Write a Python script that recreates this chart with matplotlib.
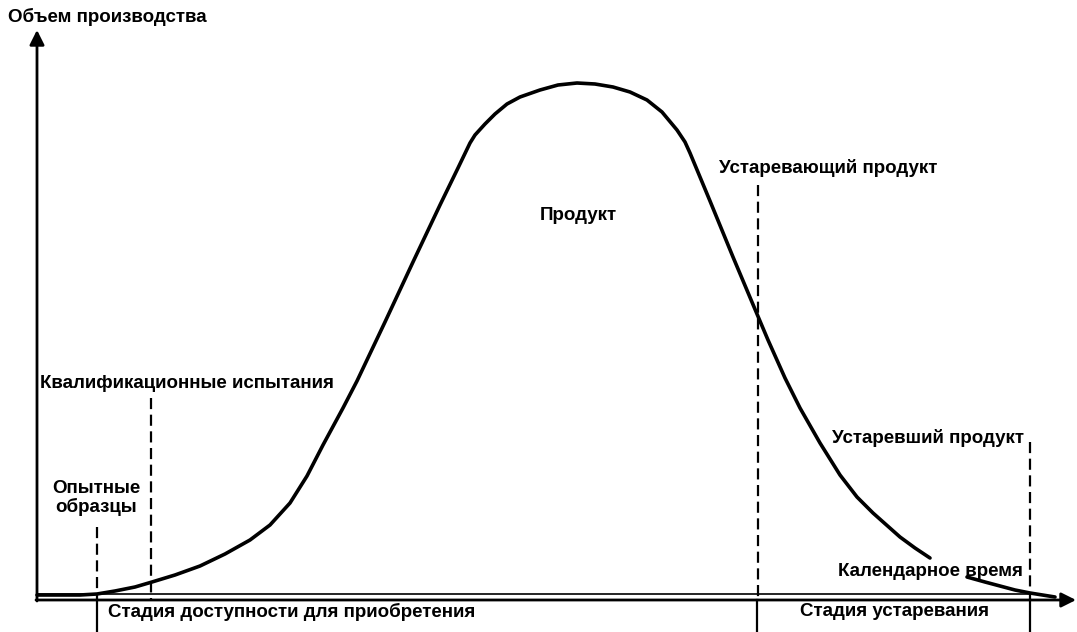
import matplotlib
matplotlib.use("Agg")
from matplotlib import pyplot as plt

plt.rcParams['font.family'] = ['Liberation Sans', 'DejaVu Sans']

# curve (pixel coords, y down), split where the label cuts it
curve_x1 = [37, 60, 80, 97, 115, 135, 152, 175, 200, 225, 250, 270, 290, 307, 323, 343, 357,
            385, 413, 440, 458, 470, 475, 485, 495, 507, 520, 540, 558, 577, 595, 613, 630,
            647, 662, 677, 685, 690, 710, 733, 757, 768, 785, 800, 820, 840, 857, 873, 900,
            915, 930]
curve_y1 = [595, 595, 595, 594, 591, 587, 582, 575, 566, 554, 540, 525, 503, 476, 445, 408, 381,
            322, 262, 205, 168, 143, 135, 124, 114, 104, 97, 90, 85, 83, 84, 87, 92,
            100, 112, 130, 142, 153, 201, 257, 314, 340, 378, 408, 443, 475, 497, 513, 537,
            548, 558]
curve_x2 = [967, 985, 1000, 1015, 1030, 1055]
curve_y2 = [577, 582, 586, 590, 593, 597]

# dashed marker lines: x, top of dash
marker_x = [97, 151, 758, 1030]
marker_top = [527, 398, 185, 442]
# solid ticks below the axis
stage_x = [97, 757, 1030]

labels = [
    ("Объем производства", 8, 17, "left"),
    ("Опытные\nобразцы", 96, 498, "center"),
    ("Квалификационные испытания", 40, 383, "left"),
    ("Продукт", 578, 215, "center"),
    ("Устаревающий продукт", 719, 168, "left"),
    ("Устаревший продукт", 832, 438, "left"),
    ("Календарное время", 838, 572, "left"),
    ("Стадия доступности для приобретения", 108, 612, "left"),
    ("Стадия устаревания", 800, 612, "left"),
]

fig = plt.figure(figsize=(10.77, 6.32), dpi=100)
ax = fig.add_axes([0, 0, 1, 1])
ax.set_xlim(0, 1077)
ax.set_ylim(632, 0)
ax.axis("off")

# axes with arrows
ax.annotate("", xy=(37, 30), xytext=(37, 601),
            arrowprops=dict(arrowstyle="-|>", lw=2, color="black", mutation_scale=22,
                            shrinkA=0, shrinkB=0))
ax.annotate("", xy=(1076, 600), xytext=(36, 600),
            arrowprops=dict(arrowstyle="-|>", lw=2, color="black", mutation_scale=22,
                            shrinkA=0, shrinkB=0))
ax.plot([37, 1030], [594, 594], color="black", lw=1.2)

for x, top in zip(marker_x, marker_top):
    ax.plot([x, x], [top, 600], color="black", lw=1.6, linestyle=(0, (5, 2.5)))
for x in stage_x:
    ax.plot([x, x], [600, 632], color="black", lw=1.6)

ax.plot(curve_x1, curve_y1, color="black", lw=2.6, solid_capstyle="round",
        solid_joinstyle="round")
ax.plot(curve_x2, curve_y2, color="black", lw=2.6, solid_capstyle="round",
        solid_joinstyle="round")

for txt, x, y, ha in labels:
    ax.text(x, y, txt, ha=ha, va="center", fontsize=13.5, fontweight="bold",
            linespacing=1.05)

fig.savefig("out.png", dpi=100)
